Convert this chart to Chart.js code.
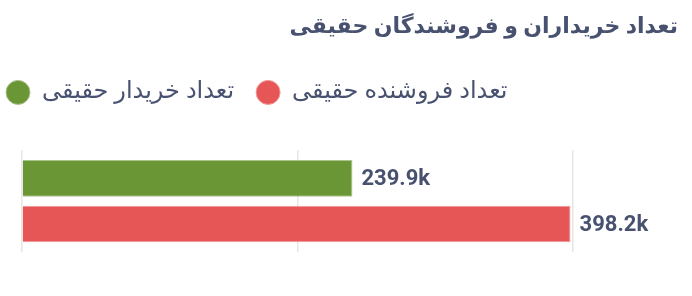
<!DOCTYPE html>
<html>
<head>
<meta charset="utf-8">
<script src="https://cdn.jsdelivr.net/npm/chart.js@4"></script>
<style>
  html, body { margin: 0; padding: 0; background: #fff; }
  #wrap { width: 692px; height: 296px; }
</style>
</head>
<body>
<div id="wrap"><canvas id="chart"></canvas></div>
<script>
/* data */
const categories = ['حقیقی'];
const seriesNames = ['تعداد خریدار حقیقی', 'تعداد فروشنده حقیقی'];
const buyers = [239900];
const sellers = [398200];
const xTicks = [0, 200000, 400000];

const TEXT = '#485270';
const FONT = "Roboto, 'DejaVu Sans', sans-serif";

/* value labels to the right of each bar */
const valueLabels = {
    id: 'valueLabels',
    afterDatasetsDraw(chart) {
        const ctx = chart.ctx;
        ctx.save();
        ctx.font = "bold 22px " + FONT;
        ctx.fillStyle = TEXT;
        ctx.textAlign = 'left';
        ctx.textBaseline = 'middle';
        chart.data.datasets.forEach((ds, i) => {
            chart.getDatasetMeta(i).data.forEach((bar, j) => {
                const v = ds.data[j];
                ctx.fillText((v / 1000).toFixed(1) + 'k', bar.x + 9, bar.y + 1);
            });
        });
        ctx.restore();
    }
};

new Chart(document.getElementById('chart'), {
    type: 'bar',
    data: {
        labels: categories,
        datasets: [
            {
                label: seriesNames[0],
                data: buyers,
                backgroundColor: '#6a9636',
                borderColor: '#a9c48c',
                borderWidth: 1,
                categoryPercentage: 0.9,
                barPercentage: 0.8
            },
            {
                label: seriesNames[1],
                data: sellers,
                backgroundColor: '#e65656',
                borderColor: '#f09a9a',
                borderWidth: 1,
                categoryPercentage: 0.9,
                barPercentage: 0.8
            }
        ]
    },
    options: {
        indexAxis: 'y',
        responsive: true,
        maintainAspectRatio: false,
        animation: false,
        layout: { padding: { left: -16, right: 14, top: 0, bottom: 44 } },
        scales: {
            x: {
                position: 'top',
                min: xTicks[0],
                max: xTicks[xTicks.length - 1],
                afterBuildTicks: s => { s.ticks = xTicks.map(v => ({ value: v })); },
                grid: { color: '#e6e6e6', lineWidth: 1.5, drawTicks: false },
                border: { display: false },
                ticks: { display: false },
                afterFit: s => { s.height = 36; }
            },
            y: {
                position: 'left',
                grid: { display: false },
                border: { display: false },
                ticks: { display: false },
                afterFit: s => { s.width = 38; }
            },
            yRight: {
                type: 'category',
                position: 'right',
                grid: { display: false },
                border: { display: false },
                ticks: { display: false },
                afterFit: s => { s.width = 105; }
            }
        },
        plugins: {
            title: {
                display: true,
                text: 'تعداد خریداران و فروشندگان حقیقی',
                align: 'end',
                color: TEXT,
                font: { family: FONT, size: 22, weight: 'bold' },
                padding: { top: 14, bottom: 18 }
            },
            legend: {
                position: 'top',
                align: 'start',
                labels: {
                    usePointStyle: true,
                    pointStyle: 'circle',
                    boxHeight: 17,
                    pointStyleWidth: 24,
                    padding: 22,
                    color: TEXT,
                    font: { family: FONT, size: 24 }
                }
            },
            tooltip: { enabled: false }
        }
    },
    plugins: [valueLabels]
});
</script>
</body>
</html>
